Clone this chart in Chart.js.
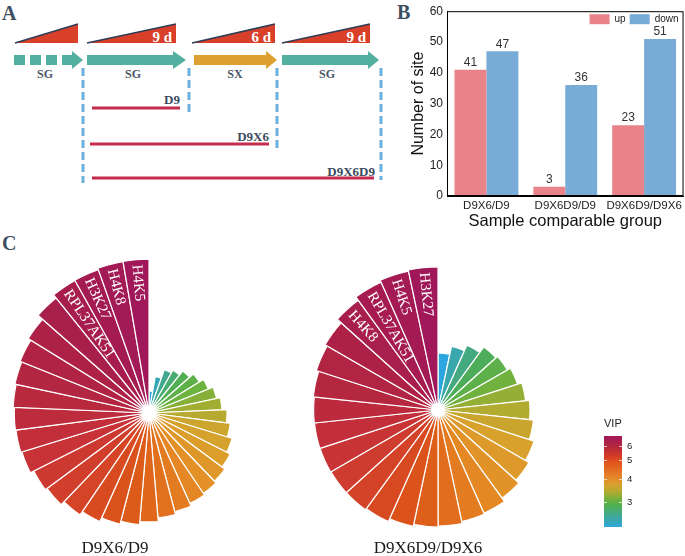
<!DOCTYPE html>
<html>
<head>
<meta charset="utf-8">
<script src="https://cdn.jsdelivr.net/npm/chart.js@4.4.1/dist/chart.umd.min.js"></script>
<style>
    body { margin: 0; background: #fff; }
    #page { position: relative; width: 685px; height: 556px; overflow: hidden; background: #fff; }
    .letter { position: absolute; font-family: "Liberation Serif", serif; font-weight: bold; font-size: 20px; line-height: 1; color: #3d4f60; }
    .caption { position: absolute; width: 160px; text-align: center; font-family: "Liberation Serif", serif; font-size: 17px; line-height: 1; color: #1a1a1a; }
    .box { position: absolute; }
    #vipBar { position: absolute; left: 604px; top: 436px; width: 18px; height: 91px;
        background: linear-gradient(to bottom, #a3185a 0%, #b22640 11%, #d23a26 22%, #e04e1c 27%, #e5852a 45%, #d9a02e 53%, #b6aa30 61%, #6fb23e 70%, #50b050 76%, #3fa896 88%, #2ea8dc 100%); }
    .vtick { position: absolute; font-family: "Liberation Sans", sans-serif; font-size: 9.5px; line-height: 1; color: #222; }
    .vmark { position: absolute; height: 1px; width: 3px; background: rgba(255,255,255,0.7); }
</style>
</head>
<body>
<div id="page">
    <!-- panel A: sampling scheme -->
    <svg width="385" height="200" style="position:absolute;left:0;top:0">
        <g fill="#d8402a">
            <polygon points="15,43 78,24 78,43"/>
            <polygon points="87,43 176,24 176,43"/>
            <polygon points="192,43 275,24 275,43"/>
            <polygon points="282,43 370,24 370,43"/>
        </g>
        <g stroke="#2e3c56" stroke-width="1.6">
            <line x1="15" y1="43" x2="78" y2="24"/>
            <line x1="87" y1="43" x2="176" y2="24"/>
            <line x1="192" y1="43" x2="275" y2="24"/>
            <line x1="282" y1="43" x2="370" y2="24"/>
        </g>
        <g font-family="Liberation Serif" font-weight="bold" font-size="15" fill="#fff" text-anchor="end">
            <text x="172" y="42">9 d</text>
            <text x="271" y="42">6 d</text>
            <text x="366" y="42">9 d</text>
        </g>
        <g fill="#52b0a0">
            <rect x="14" y="55" width="11" height="10"/>
            <rect x="30" y="55" width="11" height="10"/>
            <rect x="46" y="55" width="11" height="10"/>
            <rect x="62" y="55" width="10" height="10"/>
            <polygon points="72,51 83,60 72,69"/>
            <polygon points="87,55 173,55 173,51 186,60 173,69 173,65 87,65"/>
            <polygon points="282,55 368,55 368,51 379,60 368,69 368,65 282,65"/>
        </g>
        <polygon fill="#dfa032" points="194,55 266,55 266,51 277,60 266,69 266,65 194,65"/>
        <g font-family="Liberation Serif" font-weight="bold" font-size="12" fill="#4a5566" text-anchor="middle">
            <text x="45" y="78">SG</text>
            <text x="133" y="78">SG</text>
            <text x="235" y="78">SX</text>
            <text x="327" y="78">SG</text>
        </g>
        <g stroke="#6cb0dc" stroke-width="3" stroke-dasharray="8 4">
            <line x1="83" y1="68" x2="83" y2="183"/>
            <line x1="189" y1="68" x2="189" y2="115"/>
            <line x1="277" y1="68" x2="277" y2="150"/>
            <line x1="381" y1="68" x2="381" y2="180"/>
        </g>
        <g stroke="#c42b4e" stroke-width="3">
            <line x1="92" y1="108" x2="180" y2="108"/>
            <line x1="90" y1="144" x2="269" y2="144"/>
            <line x1="92" y1="178" x2="374" y2="178"/>
        </g>
        <g font-family="Liberation Serif" font-weight="bold" font-size="13" fill="#3b4a5e" text-anchor="end">
            <text x="180" y="104">D9</text>
            <text x="269" y="141">D9X6</text>
            <text x="375" y="176">D9X6D9</text>
        </g>
    </svg>

    <div class="letter" style="left:2px;top:3px">A</div>
    <div class="letter" style="left:397px;top:2px">B</div>
    <div class="letter" style="left:2px;top:233px">C</div>

    <div class="box" style="left:380px;top:0;width:305px;height:235px"><canvas id="barChart" width="305" height="235"></canvas></div>
    <div class="box" style="left:-11px;top:253px;width:320px;height:320px"><canvas id="roseLeft" width="320" height="320"></canvas></div>
    <div class="box" style="left:278px;top:250px;width:320px;height:320px"><canvas id="roseRight" width="320" height="320"></canvas></div>

    <div class="caption" style="left:35px;top:539px">D9X6/D9</div>
    <div class="caption" style="left:348px;top:539px">D9X6D9/D9X6</div>

    <div style="position:absolute;left:604px;top:418px;font-family:'Liberation Sans',sans-serif;font-size:11px;line-height:1;color:#222">VIP</div>
    <div id="vipBar"></div>
    <div id="vipTicks"></div>
</div>

<script>
// Panel B: number of sites per comparison
const groups = ['D9X6/D9', 'D9X6D9/D9', 'D9X6D9/D9X6'];
const upSites = [41, 3, 23];
const downSites = [47, 36, 51];

// Panel C: VIP per site, clockwise from 12 o'clock (smallest first)
const vipLeft = [2.13, 2.63, 2.93, 3.03, 3.20, 3.37, 3.53, 3.70, 3.83, 4.00,
    4.13, 4.30, 4.43, 4.55, 4.63, 4.70, 4.80, 4.90, 5.03, 5.13,
    5.23, 5.37, 5.50, 5.63, 5.70, 5.83, 5.87, 5.89, 5.93, 5.97,
    6.03, 6.13, 6.33, 6.46, 6.47, 6.52, 6.53];
const sitesLeft = [...Array(33).fill(''), 'RPL37AK51', 'H3K27', 'H4K8', 'H4K5'];

const vipRight = [2.20, 2.60, 2.90, 3.25, 3.35, 3.53, 3.75, 3.95, 4.15, 4.40,
    4.60, 4.80, 5.00, 5.05, 5.15, 5.20, 5.30, 5.45, 5.52, 5.53,
    5.55, 5.56, 5.57, 5.62, 5.75, 5.87, 6.13, 6.34, 6.45, 6.51];
const sitesRight = [...Array(26).fill(''), 'H4K8', 'RPL37AK51', 'H4K5', 'H3K27'];

const vipTicks = [6, 5, 4, 3];
const vipTickTop = [10, 24, 42.5, 66];  // px from top of colour bar

// colour ramp blue -> green -> gold -> orange -> red -> magenta
const rampStops = [
    [0.00, [43, 166, 222]],
    [0.05, [63, 167, 150]],
    [0.11, [80, 174, 84]],
    [0.17, [110, 178, 62]],
    [0.22, [160, 174, 50]],
    [0.27, [200, 166, 46]],
    [0.32, [218, 160, 44]],
    [0.40, [228, 142, 38]],
    [0.47, [226, 114, 30]],
    [0.54, [220, 86, 24]],
    [0.62, [212, 66, 40]],
    [0.70, [198, 50, 56]],
    [0.80, [180, 38, 64]],
    [0.90, [168, 30, 76]],
    [1.00, [160, 24, 90]]
];

function rampColor(t) {
    for (let i = 1; i < rampStops.length; i++) {
        const [t1, c1] = rampStops[i];
        if (t <= t1) {
            const [t0, c0] = rampStops[i - 1];
            const f = (t - t0) / (t1 - t0);
            const c = c0.map((v, k) => Math.round(v + (c1[k] - v) * f));
            return `rgb(${c[0]},${c[1]},${c[2]})`;
        }
    }
    const c = rampStops[rampStops.length - 1][1];
    return `rgb(${c[0]},${c[1]},${c[2]})`;
}

// --- bar chart ---
const barValueLabels = {
    id: 'barValueLabels',
    afterDatasetsDraw(chart) {
        const ctx = chart.ctx;
        ctx.save();
        ctx.font = '12px "Liberation Sans"';
        ctx.fillStyle = '#333';
        ctx.textAlign = 'center';
        ctx.textBaseline = 'bottom';
        chart.data.datasets.forEach((ds, i) => {
            chart.getDatasetMeta(i).data.forEach((bar, j) => {
                ctx.fillText(ds.data[j], bar.x, bar.y - 1);
            });
        });
        ctx.restore();
    }
};

const frameAndLegend = {
    id: 'frameAndLegend',
    afterDraw(chart) {
        const { ctx, chartArea: a } = chart;
        ctx.save();
        ctx.strokeStyle = '#000';
        ctx.lineWidth = 1;
        ctx.strokeRect(a.left + 0.5, a.top + 0.5, a.right - a.left - 1, a.bottom - a.top - 1);
        ctx.font = '10px "Liberation Sans"';
        ctx.textBaseline = 'middle';
        let x = a.right - 94;
        chart.data.datasets.forEach(ds => {
            ctx.fillStyle = ds.backgroundColor;
            ctx.fillRect(x, a.top + 3, 20, 10);
            ctx.fillStyle = '#222';
            ctx.fillText(ds.label, x + 25, a.top + 8);
            x += 25 + ctx.measureText(ds.label).width + 4;
        });
        ctx.restore();
    }
};

new Chart(document.getElementById('barChart'), {
    type: 'bar',
    data: {
        labels: groups,
        datasets: [
            { label: 'up', data: upSites, backgroundColor: '#e8838a', categoryPercentage: 0.81, barPercentage: 1.0 },
            { label: 'down', data: downSites, backgroundColor: '#78acd6', categoryPercentage: 0.81, barPercentage: 1.0 }
        ]
    },
    options: {
        responsive: false,
        animation: false,
        layout: { padding: { top: 4, right: 1, left: 0, bottom: 0 } },
        plugins: { legend: { display: false }, tooltip: { enabled: false } },
        scales: {
            x: {
                grid: { display: false, drawTicks: false },
                border: { display: true, color: '#000' },
                ticks: { color: '#222', font: { family: 'Liberation Sans', size: 11.5 }, padding: 3, maxRotation: 0 },
                title: { display: true, text: 'Sample comparable group', color: '#111',
                    font: { family: 'Liberation Sans', size: 16.5 }, padding: { top: 0, bottom: 4 } },
                afterFit(scale) { scale.height = 39; }
            },
            y: {
                min: 0,
                max: 60,
                grid: { display: false, drawTicks: false },
                border: { display: true, color: '#000' },
                ticks: { stepSize: 10, color: '#222', font: { family: 'Liberation Sans', size: 12 }, padding: 4 },
                title: { display: true, text: 'Number of site', color: '#111',
                    font: { family: 'Liberation Sans', size: 16 }, padding: { top: 29, bottom: 0 } },
                afterFit(scale) { scale.width = 67; }
            }
        }
    },
    plugins: [barValueLabels, frameAndLegend]
});

// --- rose charts ---
const roseLabels = {
    id: 'roseLabels',
    afterDatasetsDraw(chart) {
        const ctx = chart.ctx;
        const names = chart.data.labels;
        ctx.save();
        ctx.fillStyle = '#fff';
        ctx.font = '15px "Liberation Serif"';
        ctx.textBaseline = 'middle';
        chart.getDatasetMeta(0).data.forEach((arc, i) => {
            if (!names[i]) return;
            const p = arc.getProps(['x', 'y', 'startAngle', 'endAngle', 'outerRadius'], true);
            const mid = (p.startAngle + p.endAngle) / 2;
            ctx.save();
            ctx.translate(p.x + Math.cos(mid) * (p.outerRadius - 5), p.y + Math.sin(mid) * (p.outerRadius - 5));
            ctx.rotate(mid + Math.PI);
            ctx.fillText(names[i], 0, 0);
            ctx.restore();
        });
        const r = chart.scales.r;
        ctx.beginPath();
        ctx.arc(r.xCenter, r.yCenter, 7, 0, Math.PI * 2);
        ctx.fill();
        ctx.restore();
    }
};

function makeRose(id, values, sites, rMin, rMax) {
    return new Chart(document.getElementById(id), {
        type: 'polarArea',
        data: {
            labels: sites,
            datasets: [{
                data: values,
                backgroundColor: values.map((v, i) => rampColor(i / (values.length - 1))),
                borderColor: '#fff',
                borderWidth: 1.2
            }]
        },
        options: {
            responsive: false,
            animation: false,
            layout: { padding: 0 },
            plugins: { legend: { display: false }, tooltip: { enabled: false } },
            scales: {
                r: {
                    min: rMin,
                    max: rMax,
                    beginAtZero: false,
                    ticks: { display: false },
                    grid: { display: false },
                    angleLines: { display: false },
                    pointLabels: { display: false }
                }
            }
        },
        plugins: [roseLabels]
    });
}

makeRose('roseLeft', vipLeft, sitesLeft, 1.4, 6.733);
makeRose('roseRight', vipRight, sitesRight, -0.65, 7.35);

// colour bar ticks
const tickBox = document.getElementById('vipTicks');
vipTicks.forEach((v, i) => {
    const y = 436 + vipTickTop[i];
    tickBox.insertAdjacentHTML('beforeend',
        `<div class="vtick" style="left:627px;top:${y - 5}px">${v}</div>` +
        `<div class="vmark" style="left:604px;top:${y}px"></div>` +
        `<div class="vmark" style="left:619px;top:${y}px"></div>`);
});
</script>
</body>
</html>
